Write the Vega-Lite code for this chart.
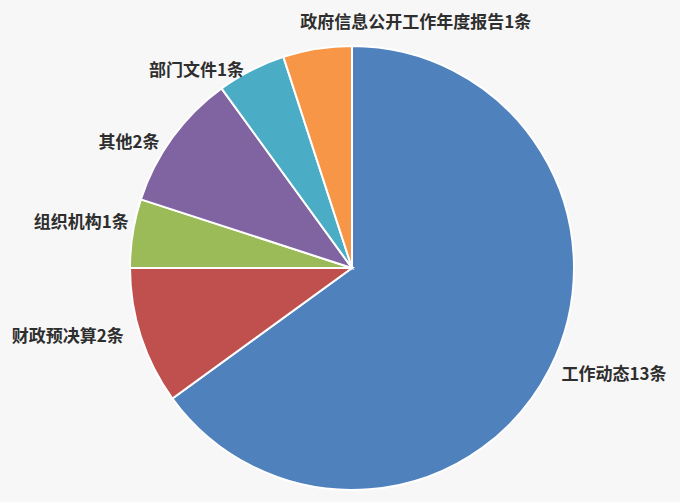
{
  "$schema": "https://vega.github.io/schema/vega-lite/v6.json",
  "width": 444,
  "height": 444,
  "autosize": {"type": "none"},
  "padding": {"left": 130, "top": 46, "right": 106, "bottom": 12},
  "background": "#f7f7f7",
  "config": {"view": {"stroke": null}, "font": "Noto Sans CJK SC"},
  "data": {
    "values": [
      {"category": "工作动态", "count": 13, "label": "工作动态13条", "seq": 1, "grp": "A"},
      {"category": "财政预决算", "count": 2, "label": "财政预决算2条", "seq": 2, "grp": "C"},
      {"category": "组织机构", "count": 1, "label": "组织机构1条", "seq": 3, "grp": "E"},
      {"category": "其他", "count": 2, "label": "其他2条", "seq": 4, "grp": "D"},
      {"category": "部门文件", "count": 1, "label": "部门文件1条", "seq": 5, "grp": "D"},
      {"category": "政府信息公开工作年度报告", "count": 1, "label": "政府信息公开工作年度报告1条", "seq": 6, "grp": "B"}
    ]
  },
  "encoding": {
    "theta": {"field": "count", "type": "quantitative", "stack": true},
    "order": {"field": "seq", "type": "quantitative"}
  },
  "layer": [
    {
      "mark": {"type": "arc", "outerRadius": 222, "stroke": "#ffffff", "strokeWidth": 2},
      "encoding": {
        "color": {
          "field": "category",
          "type": "nominal",
          "scale": {
            "domain": ["工作动态", "财政预决算", "组织机构", "其他", "部门文件", "政府信息公开工作年度报告"],
            "range": ["#4f81bd", "#c0504d", "#9bbb59", "#8064a2", "#4bacc6", "#f79646"]
          },
          "legend": null
        }
      }
    },
    {
      "mark": {"type": "text", "radius": 235, "align": "left", "baseline": "middle", "fontSize": 17, "fontWeight": "bold", "color": "#2e2e2e"},
      "encoding": {"text": {"condition": {"test": "datum.grp == 'A'", "field": "label"}, "value": ""}}
    },
    {
      "mark": {"type": "text", "radius": 248, "align": "left", "baseline": "middle", "dx": -13, "fontSize": 17, "fontWeight": "bold", "color": "#2e2e2e"},
      "encoding": {"text": {"condition": {"test": "datum.grp == 'B'", "field": "label"}, "value": ""}}
    },
    {
      "mark": {"type": "text", "radius": 240, "align": "right", "baseline": "middle", "dy": -5, "fontSize": 17, "fontWeight": "bold", "color": "#2e2e2e"},
      "encoding": {"text": {"condition": {"test": "datum.grp == 'C'", "field": "label"}, "value": ""}}
    },
    {
      "mark": {"type": "text", "radius": 226, "align": "right", "baseline": "middle", "dy": -10, "fontSize": 17, "fontWeight": "bold", "color": "#2e2e2e"},
      "encoding": {"text": {"condition": {"test": "datum.grp == 'E'", "field": "label"}, "value": ""}}
    },
    {
      "mark": {"type": "text", "radius": 238, "align": "right", "baseline": "middle", "dy": 15, "fontSize": 17, "fontWeight": "bold", "color": "#2e2e2e"},
      "encoding": {"text": {"condition": {"test": "datum.grp == 'D'", "field": "label"}, "value": ""}}
    }
  ]
}
